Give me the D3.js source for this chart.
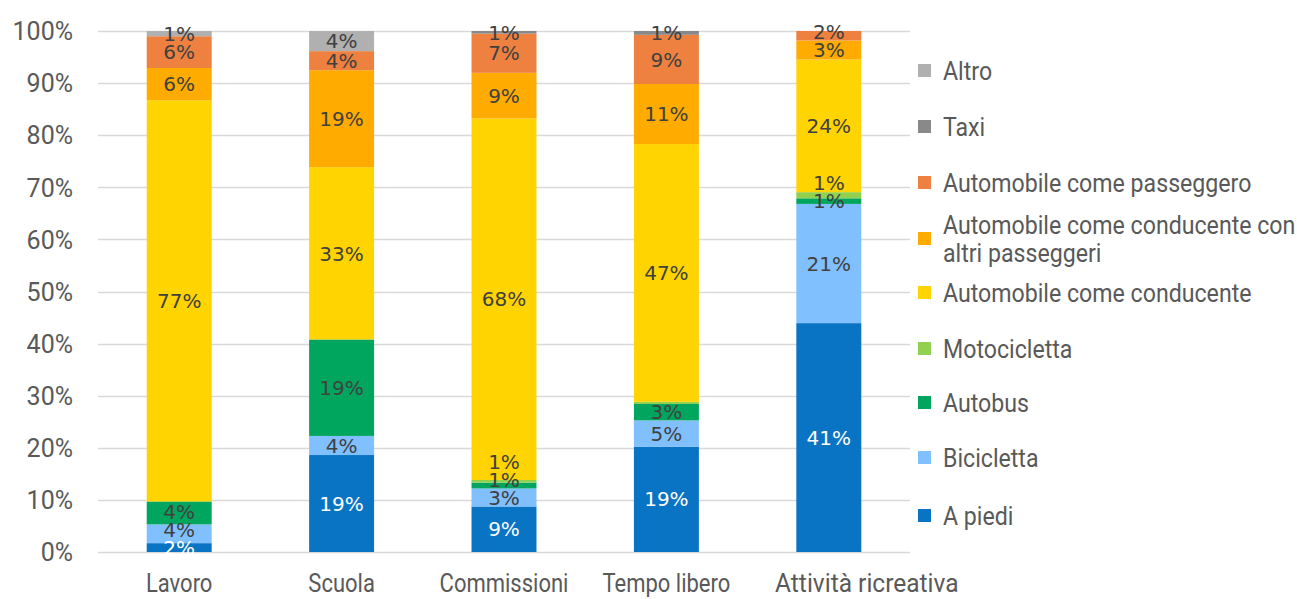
<!DOCTYPE html>
<html><head><meta charset="utf-8">
<script src="https://cdn.jsdelivr.net/npm/d3@7"></script>
<style>body{margin:0;background:#fff}svg{display:block}</style>
</head><body><svg id="c" width="1297" height="599"></svg>
<script>
const categories = ["Lavoro", "Scuola", "Commissioni", "Tempo libero", "Attività ricreativa"];
const seriesNames = ["A piedi", "Bicicletta", "Autobus", "Motocicletta", "Automobile come conducente",
  "Automobile come conducente con altri passeggeri", "Automobile come passeggero", "Taxi", "Altro"];
const aPiedi            = [1.7, 18.8, 8.6, 19.3, 40.9];
const bicicletta        = [3.6, 3.7, 3.4, 4.8, 21.3];
const autobus           = [4.4, 18.7, 1.1, 3.0, 1.0];
const motocicletta      = [0, 0, 0.5, 0.4, 1.1];
const autoConducente    = [77.0, 33.4, 68.3, 47.2, 23.7];
const autoConPasseggeri = [6.2, 18.8, 8.6, 11.0, 3.4];
const autoPasseggero    = [6.1, 3.7, 7.4, 9.0, 1.7];
const taxi              = [0, 0, 0.5, 0.7, 0];
const altro             = [1.0, 3.9, 0, 0, 0];
const yTicks = [0, 0.1, 0.2, 0.3, 0.4, 0.5, 0.6, 0.7, 0.8, 0.9, 1.0];
const colors = ["#0A74C4", "#80C0FF", "#00A65E", "#92D050", "#FFD400", "#FFAB00", "#EE8140", "#898989", "#B0B0B0"];

const seriesValues = [aPiedi, bicicletta, autobus, motocicletta, autoConducente, autoConPasseggeri, autoPasseggero, taxi, altro];
const table = categories.map((c, i) => {
  const row = {cat: c};
  seriesNames.forEach((s, j) => row[s] = seriesValues[j][i]);
  return row;
});

const svg = d3.select("#c");
const M = {left: 98, right: 910, top: 31, bottom: 552};
const x = d3.scaleBand().domain(categories).range([M.left, M.right]).paddingInner(0.6).paddingOuter(0.3);
const y = d3.scaleLinear().domain([0, 1]).range([M.bottom, M.top]);
const color = d3.scaleOrdinal().domain(seriesNames).range(colors);

// gridlines
svg.append("g").selectAll("line").data(yTicks).join("line")
  .attr("x1", M.left).attr("x2", M.right)
  .attr("y1", d => Math.round(y(d)) + 0.5).attr("y2", d => Math.round(y(d)) + 0.5)
  .attr("stroke", "#D9D9D9").attr("stroke-width", 1.3);

// y axis labels
const yAxis = d3.axisLeft(y).tickValues(yTicks).tickFormat(d3.format(".0%")).tickSize(0).tickPadding(0);
const gy = svg.append("g").attr("transform", "translate(73,0)").call(yAxis);
gy.select(".domain").remove();
gy.selectAll("text").attr("fill", "#595959").style("font-family", "Roboto").style("font-size", "25px").attr("dy", "0.35em");

// x axis labels (condensed look)
const xAxis = d3.axisBottom(x).tickSize(0).tickPadding(0);
const gx = svg.append("g").attr("transform", "translate(0,572)").call(xAxis);
gx.select(".domain").remove();
gx.selectAll("text").attr("fill", "#595959").style("font-family", "Roboto").style("font-size", "25px")
  .attr("dy", "0.8em").attr("transform", "scale(0.88,1)");
// the last category label sits to the right of its bar in the reference
gx.selectAll(".tick").filter(d => d === categories[categories.length - 1])
  .select("text").attr("transform", "translate(38,0) scale(0.98,1)");

const stack = d3.stack().keys(seriesNames).offset(d3.stackOffsetExpand);
const series = stack(table);

svg.append("g").selectAll("g").data(series).join("g")
  .attr("fill", d => color(d.key))
  .selectAll("rect").data(d => d).join("rect")
  .attr("x", d => x(d.data.cat)).attr("width", x.bandwidth())
  .attr("y", d => y(d[1])).attr("height", d => Math.max(0, y(d[0]) - y(d[1])));

// data labels with simple bottom-up collision avoidance
const labelG = svg.append("g").style("font-family", "'DejaVu Sans', Verdana, sans-serif").style("font-size", "20px").attr("text-anchor", "middle");
categories.forEach((c, i) => {
  let prev = Infinity;
  series.forEach((s, j) => {
    const raw = s[i].data[s.key];
    const r = Math.round(raw);
    if (r === 0) return;
    let cy = (y(s[i][0]) + y(s[i][1])) / 2;
    cy = Math.min(cy, prev - 18);
    prev = cy;
    labelG.append("text")
      .attr("x", x(c) + x.bandwidth() / 2).attr("y", cy).attr("dy", "0.36em")
      .attr("fill", j === 0 ? "#FFFFFF" : "#404040")
      .text(r + "%");
  });
});

// legend
const legendY = [516, 458, 403, 349, 293, 239, 183, 127, 71];
const sx = 0.89;
const lg = svg.append("g").style("font-family", "Roboto").style("font-size", "26px");
seriesNames.forEach((s, j) => {
  const g = lg.append("g").attr("transform", `translate(918,${legendY[j]})`);
  g.append("rect").attr("x", 0).attr("y", -7).attr("width", 13).attr("height", 13).attr("fill", color(s));
  const t = g.append("text").attr("transform", `translate(25,0) scale(${sx},1)`).attr("fill", "#595959");
  const words = s.split(" ");
  const lines = [];
  let line = [];
  const tmp = g.append("text").style("visibility", "hidden");
  words.forEach(w => {
    const test = line.concat(w).join(" ");
    tmp.text(test);
    if (tmp.node().getComputedTextLength() * sx > 360 && line.length) { lines.push(line.join(" ")); line = [w]; }
    else line.push(w);
  });
  lines.push(line.join(" "));
  tmp.remove();
  const lh = 28;
  lines.forEach((l, k) => {
    t.append("tspan").attr("x", 0).attr("y", (k - (lines.length - 1) / 2) * lh).attr("dy", "0.35em").text(l);
  });
});
</script></body></html>
